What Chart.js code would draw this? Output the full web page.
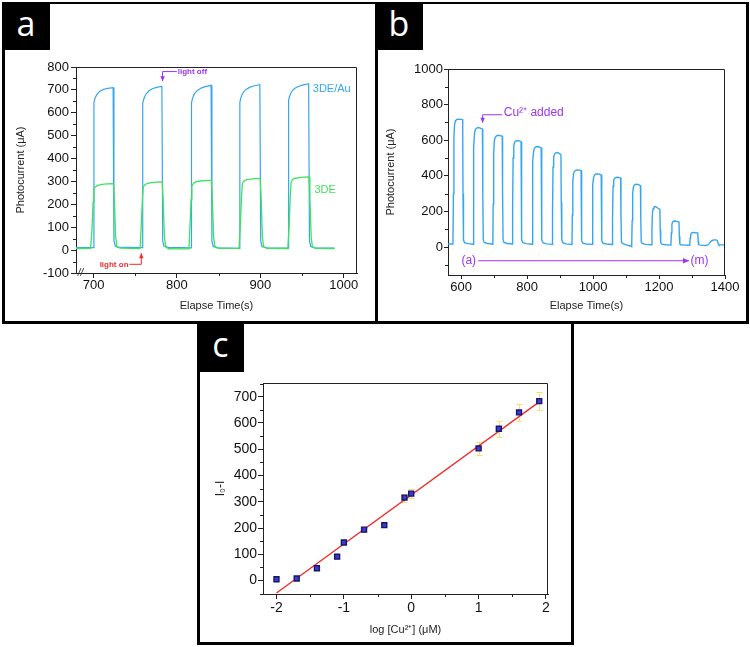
<!DOCTYPE html>
<html><head><meta charset="utf-8">
<script src="https://cdn.jsdelivr.net/npm/chart.js@4.4.0/dist/chart.umd.min.js"></script>
<style>
html,body{margin:0;padding:0;background:#fff;}
#wrap{position:relative;width:750px;height:647px;overflow:hidden;background:#fff;}
.frame{position:absolute;border:3px solid #000;box-sizing:border-box;}
.tag{position:absolute;background:#000;color:#fff;font-family:"Open Sans",sans-serif;font-size:34px;display:flex;align-items:center;justify-content:center;line-height:1;}
.tag span{position:relative;top:-3px;}
canvas{position:absolute;left:0;top:0;}
</style></head>
<body><div id="wrap">
<div class="frame" style="left:2px;top:2px;width:376px;height:322px;border-top-width:2px;"></div>
<div class="frame" style="left:375px;top:2px;width:374px;height:322px;border-top-width:2px;"></div>
<div class="frame" style="left:197px;top:321px;width:377px;height:324px;"></div>
<div class="tag" style="left:2px;top:2px;width:48px;height:48px;"><span>a</span></div>
<div class="tag" style="left:375px;top:2px;width:48px;height:48px;"><span>b</span></div>
<div class="tag" style="left:197px;top:322px;width:47px;height:50px;"><span>c</span></div>
<canvas id="ca" width="750" height="647"></canvas>
<canvas id="cb" width="750" height="647"></canvas>
<canvas id="cc" width="750" height="647"></canvas>
</div>
<script>
// ---------- Panel a data ----------
const aXTicks = [700, 800, 900, 1000];
const aYTicks = [-100, 0, 100, 200, 300, 400, 500, 600, 700, 800];
const aXMinor = [750, 850, 950];
const aYMinor = [-50, 50, 150, 250, 350, 450, 550, 650, 750];
const aBlueT = [679,700,700.5,701.5,703,705,708,712,717,723.5,724.5,726,730,758.5,
  759,760,761.5,763.5,766.5,770.5,775.5,782,783,784.5,790,817,
  817.5,818.5,820,822,825,829,834,841,842,843.5,850,875,
  875.5,876.5,878,880,883,887,892,899.5,900.5,902,908,933.5,
  934,935,936.5,938.5,941.5,945.5,950.5,958,959,960.5,966,989];
const aBlueY = [11,11,644,660,673,685,695,702,707,710,40,18,13,11,
  640,657,671,684,696,705,711,715,40,17,12,10,
  642,660,675,688,699,708,714,720,40,16,10,8,
  645,663,678,691,702,711,717,723,40,16,10,9,
  655,670,684,697,707,715,721,727,40,16,10,9];
const aGreenT = [679,696.5,698,699.5,700.5,702,705,710,716,724,725,726.5,728,732,755,
  756,757,758.5,759.5,761,764,769,775,782.5,783.5,785,786.5,790,814,
  814.5,815.5,817,818,820,823,828,834,841.5,842.5,844,845.5,850,874.5,
  876,877.5,878.5,880,883,888,893,900,901,902.5,904,908,933,
  934.5,936,937,939,942,947,952,958.5,959.5,961,962.5,966,989];
const aGreenY = [7,8,80,210,265,276,283,287,289,290,220,60,14,9,7,
  9,90,215,272,284,291,295,297,298,220,60,14,6,5,
  8,90,220,280,292,299,302,304,305,220,60,14,8,8,
  100,230,290,300,307,310,312,313,230,60,14,8,7,
  100,235,298,309,314,317,319,320,230,60,14,8,7];

// ---------- Panel b data ----------
const bXTicks = [600, 800, 1000, 1200, 1400];
const bYTicks = [0, 200, 400, 600, 800, 1000];
const bXMinor = [700, 900, 1100, 1300];
const bYMinor = [-100, 100, 300, 500, 700, 900];
const bT = [560,575,576.5,578,580,583,587,592,598,604.5,605.5,607,610,620,
  636,637,638.5,640.5,643,647,652,658,664.5,665.5,667,670,680,
  696,697,698.5,700.5,703,707,712,718,724.5,725.5,727,730,740,
  755,756,757.5,759.5,762,766,771,776,781.5,782.5,784,787,797,
  815,816,817.5,819.5,822,826,831,837,842.5,843.5,845,848,858,
  876,877,878.5,880.5,883,887,892,897,902.5,903.5,905,908,918,
  936,937,938.5,940.5,943,947,952,958,963.5,964.5,966,969,979,
  997,998,999.5,1001.5,1004,1008,1013,1019,1024.5,1025.5,1027,1030,1040,
  1058,1059,1060.5,1062.5,1065,1069,1074,1079,1083.5,1084.5,1086,1089,1099,
  1112,1117,1118.5,1120,1122,1124.5,1128,1133,1138,1143.5,1144.5,1146,1149,1159,
  1177,1178.5,1180,1182,1184.5,1188,1192,1197,1202.5,1203.5,1205,1208,1220,
  1236,1237.5,1239,1241,1244,1248,1254,1260.5,1261.5,1263,1266,1278,
  1293,1294.5,1296,1298,1301,1306,1312,1317.5,1318.5,1320,1325,1340,
  1348,1353,1358,1363,1368,1373,1377,1379,1381,1390,1400];
const bY = [17,17,300,620,690,710,717,718,717,716,300,40,25,19,
  16,250,560,640,660,668,671,668,662,300,40,26,20,
  16,240,520,595,615,625,628,626,622,300,40,26,20,
  17,230,500,568,588,596,598,596,592,300,40,25,19,
  16,220,480,535,555,563,565,562,557,250,40,24,18,
  15,200,450,505,522,529,531,526,518,250,40,24,18,
  15,180,370,410,425,431,433,432,430,200,35,22,17,
  15,170,350,390,404,410,411,409,405,200,35,22,17,
  14,160,340,375,386,391,392,390,388,180,30,20,14,
  6,2,150,300,335,346,352,353,350,345,170,30,20,15,
  13,110,190,215,224,227,224,218,212,100,25,16,13,
  12,80,128,140,145,146,144,140,60,18,13,11,
  10,50,70,77,81,82,80,78,35,14,11,9,
  12,22,33,38,40,40,36,20,13,12,12];

// ---------- Panel c data ----------
const cXTicks = [-2, -1, 0, 1, 2];
const cYTicks = [0, 100, 200, 300, 400, 500, 600, 700];
const cXMinor = [-1.5, -0.5, 0.5, 1.5];
const cYMinor = [-50, 50, 150, 250, 350, 450, 550, 650, 750];
const cX = [-2, -1.7, -1.4, -1.1, -1.0, -0.7, -0.4, -0.1, 0, 1.0, 1.3, 1.6, 1.9];
const cY = [5, 8, 47, 91, 145, 194, 211, 316, 331, 503, 578, 640, 683];
const cErr = [6, 6, 6, 6, 6, 8, 8, 15, 17, 25, 30, 32, 35];

// ---------- styling ----------
const FONT = '"Liberation Sans", Arial, Helvetica, sans-serif';
const BLUE = '#36a6f2', GREEN = '#3fe25c', PURPLE = '#9b35ee', RED = '#f22a2a';

function axis(size, tickPad, tickLen) {
  return {
    type: 'linear',
    grid: {drawOnChartArea: false, drawTicks: true, tickLength: tickLen, color: '#222', lineWidth: 1},
    border: {display: true, color: '#222', width: 1},
    ticks: {color: '#111', font: {family: FONT, size: size}, padding: tickPad, autoSkip: false,
            maxRotation: 0, minRotation: 0, callback: v => String(v)}
  };
}
function title(text, size, pt, pb) {
  return {display: true, text: text, color: '#222', font: {family: FONT, size: size}, padding: {top: pt, bottom: pb}};
}
function boxMinor(xMinor, yMinor, len) {
  return {id: 'boxMinor', afterDraw(chart) {
    const {ctx, chartArea: a, scales: {x, y}} = chart;
    ctx.save(); ctx.strokeStyle = '#222'; ctx.lineWidth = 1;
    ctx.beginPath();
    ctx.moveTo(a.left, Math.round(a.top) + 0.5); ctx.lineTo(Math.round(a.right) - 0.5, Math.round(a.top) + 0.5);
    ctx.lineTo(Math.round(a.right) - 0.5, a.bottom); ctx.stroke();
    ctx.beginPath();
    xMinor.forEach(v => { const p = Math.round(x.getPixelForValue(v)) + 0.5; ctx.moveTo(p, a.bottom); ctx.lineTo(p, a.bottom + len); });
    yMinor.forEach(v => { const p = Math.round(y.getPixelForValue(v)) + 0.5; ctx.moveTo(a.left, p); ctx.lineTo(a.left - len, p); });
    ctx.stroke(); ctx.restore();
  }};
}
function arrow(ctx, pts, color, head) {
  ctx.strokeStyle = color; ctx.fillStyle = color; ctx.lineWidth = 1;
  ctx.beginPath(); ctx.moveTo(pts[0][0], pts[0][1]);
  for (let i = 1; i < pts.length; i++) ctx.lineTo(pts[i][0], pts[i][1]);
  ctx.stroke();
  const [x1, y1] = pts[pts.length - 2], [x2, y2] = pts[pts.length - 1];
  const ang = Math.atan2(y2 - y1, x2 - x1), c = Math.cos(ang), s = Math.sin(ang), w = head * 0.45;
  ctx.beginPath(); ctx.moveTo(x2, y2);
  ctx.lineTo(x2 - head * c + w * s, y2 - head * s - w * c);
  ctx.lineTo(x2 - head * c - w * s, y2 - head * s + w * c);
  ctx.closePath(); ctx.fill();
}
function setTicks(list) { return s => { s.ticks = list.map(v => ({value: v})); }; }
const common = {responsive: false, animation: false, devicePixelRatio: 1, events: [],
  plugins: {legend: {display: false}, tooltip: {enabled: false}}};

// ---------- Panel a ----------
const annoA = {id: 'annoA', afterDatasetsDraw(chart) {
  const {ctx, scales: {x, y}} = chart;
  const X = v => x.getPixelForValue(v), Y = v => y.getPixelForValue(v);
  ctx.save();
  ctx.textBaseline = 'middle'; ctx.textAlign = 'left';
  ctx.font = '11px ' + FONT;
  ctx.fillStyle = BLUE; ctx.fillText('3DE/Au', X(963), Y(702));
  ctx.fillStyle = GREEN; ctx.fillText('3DE', X(965), Y(262));
  ctx.font = 'bold 8px ' + FONT;
  ctx.fillStyle = PURPLE; ctx.fillText('light off', X(801), Y(780));
  arrow(ctx, [[X(800), Y(780)], [X(782.8), Y(780)], [X(782.8), Y(738)]], PURPLE, 5);
  ctx.fillStyle = RED; ctx.textAlign = 'right'; ctx.fillText('light on', X(742), Y(-62));
  arrow(ctx, [[X(743), Y(-62)], [X(757.3), Y(-62)], [X(757.3), Y(-14)]], RED, 5);
  ctx.fillStyle = '#222'; ctx.textAlign = 'center'; ctx.font = 'italic 10px ' + FONT;
  ctx.fillText('//', X(684.5), chart.chartArea.bottom);
  ctx.restore();
}};
new Chart(document.getElementById('ca'), {
  type: 'line',
  data: {datasets: [
    {label: '3DE', data: aGreenT.map((t, i) => ({x: t, y: aGreenY[i]})), borderColor: GREEN, borderWidth: 1.3, pointRadius: 0, tension: 0, fill: false},
    {label: '3DE/Au', data: aBlueT.map((t, i) => ({x: t, y: aBlueY[i]})), borderColor: BLUE, borderWidth: 1.2, pointRadius: 0, tension: 0, fill: false}
  ]},
  options: Object.assign({}, common, {
    layout: {padding: {left: 76 - 64, top: 67, right: 750 - 357, bottom: 647 - 273 - 44}},
    scales: {
      x: Object.assign(axis(13, 0, 5), {min: 679, max: 1016, afterBuildTicks: setTicks(aXTicks),
          afterFit: s => { s.height = 44; }, title: title('Elapse Time(s)', 11, 0, 4)}),
      y: Object.assign(axis(13, 2, 5), {min: -100, max: 800, afterBuildTicks: setTicks(aYTicks),
          afterFit: s => { s.width = 64; }, title: title('Photocurrent (μA)', 11, 2, 0)})
    }
  }),
  plugins: [boxMinor(aXMinor, aYMinor, 3), annoA]
});

// ---------- Panel b ----------
const annoB = {id: 'annoB', afterDatasetsDraw(chart) {
  const {ctx, scales: {x, y}} = chart;
  const X = v => x.getPixelForValue(v), Y = v => y.getPixelForValue(v);
  ctx.save();
  ctx.textBaseline = 'middle'; ctx.textAlign = 'left';
  ctx.font = '12px ' + FONT; ctx.fillStyle = PURPLE;
  ctx.fillText('Cu²⁺ added', X(729), Y(752));
  arrow(ctx, [[X(724), Y(743)], [X(665), Y(743)], [X(665), Y(698)]], PURPLE, 5);
  ctx.textAlign = 'center';
  ctx.fillText('(a)', X(623), Y(-77));
  ctx.fillText('(m)', X(1323), Y(-77));
  arrow(ctx, [[X(652), Y(-77)], [X(1291), Y(-77)]], PURPLE, 6);
  ctx.restore();
}};
new Chart(document.getElementById('cb'), {
  type: 'line',
  data: {datasets: [
    {label: 'b', data: bT.map((t, i) => ({x: t, y: bY[i]})), borderColor: BLUE, borderWidth: 1.4, pointRadius: 0, tension: 0, fill: false}
  ]},
  options: Object.assign({}, common, {
    layout: {padding: {left: 448 - 66, top: 69, right: 750 - 725, bottom: 647 - 275 - 42}},
    scales: {
      x: Object.assign(axis(13, 1, 4), {min: 560, max: 1400, afterBuildTicks: setTicks(bXTicks),
          afterFit: s => { s.height = 42; }, title: title('Elapse Time(s)', 11, 0, 4)}),
      y: Object.assign(axis(13, 1, 4), {min: -157, max: 1000, afterBuildTicks: setTicks(bYTicks),
          afterFit: s => { s.width = 66; }, title: title('Photocurrent (μA)', 11, 2, 0)})
    }
  }),
  plugins: [boxMinor(bXMinor, bYMinor, 3), annoB]
});

// ---------- Panel c ----------
const n = cX.length;
const mx = cX.reduce((a, b) => a + b, 0) / n, my = cY.reduce((a, b) => a + b, 0) / n;
let sxy = 0, sxx = 0;
for (let i = 0; i < n; i++) { sxy += (cX[i] - mx) * (cY[i] - my); sxx += (cX[i] - mx) ** 2; }
const slope = sxy / sxx, icpt = my - slope * mx;
const fitData = [cX[0], cX[n - 1]].map(v => ({x: v, y: icpt + slope * v}));
const errBars = {id: 'errBars', beforeDatasetsDraw(chart) {
  const {ctx, scales: {x, y}} = chart;
  ctx.save(); ctx.strokeStyle = '#f7e070'; ctx.lineWidth = 1;
  ctx.beginPath();
  for (let i = 0; i < n; i++) {
    const px = Math.round(x.getPixelForValue(cX[i])) + 0.5;
    const t = Math.round(y.getPixelForValue(cY[i] + cErr[i])) + 0.5, b = Math.round(y.getPixelForValue(cY[i] - cErr[i])) + 0.5;
    ctx.moveTo(px, t); ctx.lineTo(px, b);
    ctx.moveTo(px - 3, t); ctx.lineTo(px + 3, t);
    ctx.moveTo(px - 3, b); ctx.lineTo(px + 3, b);
  }
  ctx.stroke(); ctx.restore();
}};
new Chart(document.getElementById('cc'), {
  type: 'scatter',
  data: {datasets: [
    {label: 'data', data: cX.map((v, i) => ({x: v, y: cY[i]})), pointStyle: 'rect', pointRadius: 3.5,
     backgroundColor: '#3c3cc8', borderColor: '#16166e', borderWidth: 1.4},
    {label: 'fit', type: 'line', data: fitData, showLine: true, borderColor: RED, borderWidth: 1.3, pointRadius: 0, fill: false}
  ]},
  options: Object.assign({}, common, {
    layout: {padding: {left: 263 - 54, top: 383, right: 750 - 548, bottom: 647 - 594 - 46}},
    scales: {
      x: Object.assign(axis(14, 1, 5), {min: -2.2, max: 2.03, afterBuildTicks: setTicks(cXTicks),
          afterFit: s => { s.height = 46; }, title: title('log [Cu²⁺] (μM)', 11, 0, 3)}),
      y: Object.assign(axis(14, 1, 5), {min: -51, max: 752, afterBuildTicks: setTicks(cYTicks),
          afterFit: s => { s.width = 54; }, title: title('I₀-I', 12, 4, 0)})
    }
  }),
  plugins: [boxMinor(cXMinor, cYMinor, 3), errBars]
});
</script>
</body></html>
